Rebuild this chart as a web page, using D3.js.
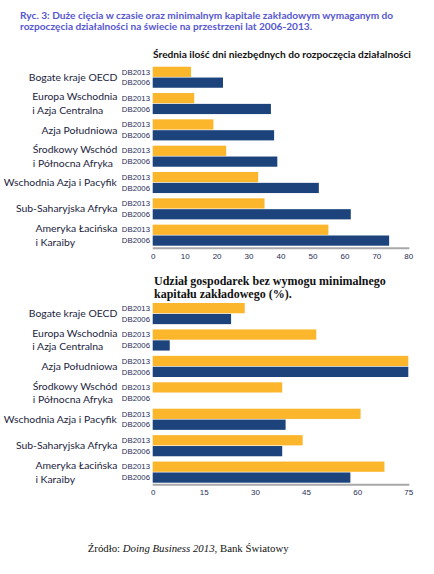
<!DOCTYPE html>
<html><head><meta charset="utf-8">
<script src="https://cdn.jsdelivr.net/npm/d3@7"></script>
<style>
html,body{margin:0;padding:0;background:#fff;}
svg{display:block;}
</style></head>
<body>
<svg id="chart" width="434" height="574"></svg>
<script>
const categories = ["Bogate kraje OECD","Europa Wschodnia|i Azja Centralna","Azja Południowa","Środkowy Wschód|i Północna Afryka","Wschodnia Azja i Pacyfik","Sub-Saharyjska Afryka","Ameryka Łacińska|i Karaiby"];
const seriesNames = ["DB2013","DB2006"];
const days2013 = [12,13,19,23,33,35,55];
const days2006 = [22,37,38,39,52,62,74];
const capital2013 = [27,48,75,38,61,44,68];
const capital2006 = [23,5,75,0,39,38,58];
const daysTicks = [0,10,20,30,40,50,60,70,80];
const capitalTicks = [0,15,30,45,60,75];
const titleLines = ["Ryc. 3: Duże cięcia w czasie oraz minimalnym kapitale zakładowym wymaganym do","rozpoczęcia działalności na świecie na przestrzeni lat 2006-2013."];
const topSubtitle = "Średnia ilość dni niezbędnych do rozpoczęcia działalności";
const bottomSubtitle = ["Udział gospodarek bez wymogu minimalnego","kapitału zakładowego (%)."];

const colors = {DB2013:"#FBB62C", DB2006:"#1C437B"};
const svg = d3.select("#chart");
const sans = "Lato, 'Open Sans', sans-serif";
const serif = "'Liberation Serif', 'DejaVu Serif', serif";

svg.append("g").selectAll("text").data(titleLines).join("text")
  .attr("x",20).attr("y",(d,i)=>18.5+i*11.3)
  .attr("font-family",sans).attr("font-weight","bold").attr("font-size",10.15)
  .attr("fill","#5656D2").text(d=>d);

function panel(vals13, vals06, maxV, ticks, yTop, yBot, axisY){
  const x = d3.scaleLinear().domain([0,maxV]).range([152.7,408.3]);
  const y = d3.scaleBand().domain(categories).range([yTop,yBot]).paddingInner(0.2).paddingOuter(0);
  const yi = d3.scaleBand().domain(seriesNames).range([0,y.bandwidth()]).paddingInner(0.06);
  const g = svg.append("g");
  const rows = categories.map((c,i)=>({c, v:{DB2013:vals13[i], DB2006:vals06[i]}}));
  const grp = g.selectAll("g.grp").data(rows).join("g").attr("class","grp")
    .attr("transform",d=>`translate(0,${y(d.c)})`);
  grp.selectAll("rect").data(d=>seriesNames.map(s=>({s, v:d.v[s]}))).join("rect")
    .attr("x",x(0)).attr("y",d=>yi(d.s)).attr("height",yi.bandwidth())
    .attr("width",d=>x(d.v)-x(0)).attr("fill",d=>colors[d.s]);
  grp.selectAll("text.ser").data(seriesNames).join("text").attr("class","ser")
    .attr("x",150).attr("y",d=>yi(d)+yi.bandwidth()/2).attr("dy","0.35em")
    .attr("text-anchor","end").attr("font-family","'Liberation Sans', Arial, sans-serif")
    .attr("font-size",7.8).attr("fill","#1F2D55").text(d=>d);
  grp.each(function(d){
    const lines = d.c.split("|");
    const t = d3.select(this).append("text")
      .attr("font-family",sans).attr("font-size",10.4).attr("fill","#1B2440");
    const mid = y.bandwidth()/2;
    const lh = 13.6;
    lines.forEach((l,i)=>{
      t.append("tspan").attr("x",0).attr("y",mid+(i-(lines.length-1)/2)*lh).attr("dy","0.35em").text(l);
    });
    const w = t.node().getBBox().width;
    t.attr("transform",`translate(${117.5-w},0)`);
  });
  const ax = g.append("g").attr("transform",`translate(0,${axisY})`)
    .call(d3.axisBottom(x).tickValues(ticks).tickSize(0).tickPadding(5).tickFormat(d3.format("d")));
  ax.select(".domain").attr("stroke","#A8A8A8").attr("stroke-width",2).attr("d",`M${x(0)},0H${x(maxV)+1}`);
  ax.selectAll("text").attr("font-family","'Liberation Sans', Arial, sans-serif").attr("font-size",8).attr("fill","#1F2D55");
}

svg.append("text").attr("x",153).attr("y",57.8)
  .attr("font-family",sans).attr("font-weight","bold").attr("font-size",10.2).attr("fill","#111")
  .text(topSubtitle);
panel(days2013, days2006, 80, daysTicks, 66.7, 245.7, 248.3);

svg.append("g").selectAll("text").data(bottomSubtitle).join("text")
  .attr("x",154).attr("y",(d,i)=>284.8+i*13.3)
  .attr("font-family",serif).attr("font-weight","bold").attr("font-size",12).attr("fill","#111")
  .text(d=>d);
panel(capital2013, capital2006, 75, capitalTicks, 303, 482.7, 484.7);

const foot = svg.append("text").attr("x",87.7).attr("y",551.5)
  .attr("font-family",serif).attr("font-size",10.8).attr("fill","#111");
foot.append("tspan").text("Źródło: ");
foot.append("tspan").attr("font-style","italic").text("Doing Business 2013");
foot.append("tspan").text(", Bank Światowy");
</script>
</body></html>
